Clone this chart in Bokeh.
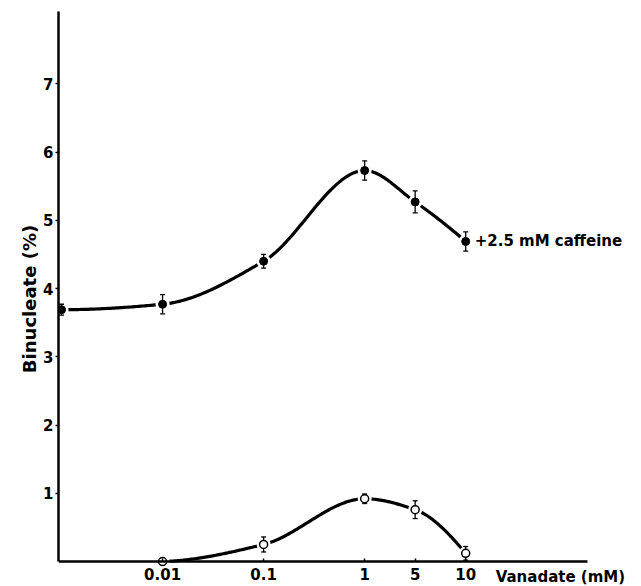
import numpy as np
from bokeh.plotting import figure
from bokeh.models import FixedTicker, Label, Range1d
from bokeh.embed import file_html
from bokeh.resources import INLINE

# ---- data ----
conc_ticks = [0.01, 0.1, 1, 5, 10]
conc_tick_labels = ["0.01", "0.1", "1", "5", "10"]
# axis slot of each concentration (the original axis is not to scale)
axis_slot = {0: 0.0, 0.01: 1.0, 0.1: 2.0, 1: 3.0, 5: 3.5, 10: 4.0}

caff_conc = [0, 0.01, 0.1, 1, 5, 10]
caff_val = [3.69, 3.77, 4.40, 5.73, 5.27, 4.69]
caff_err = [0.08, 0.14, 0.10, 0.14, 0.16, 0.14]

ctrl_conc = [0.01, 0.1, 1, 5, 10]
ctrl_val = [0.0, 0.25, 0.92, 0.76, 0.12]
ctrl_err = [0.0, 0.11, 0.07, 0.13, 0.10]

y_ticks = [1, 2, 3, 4, 5, 6, 7]

FONT = "DejaVu Sans"

X_START, X_AXIS_END, X_END = -0.03, 5.21, 5.74
Y_START, Y_END = -0.366, 8.06


def pchip(x, y, n=200):
    x = np.asarray(x, float)
    y = np.asarray(y, float)
    h = np.diff(x)
    d = np.diff(y) / h
    m = np.zeros_like(x)
    for k in range(1, len(x) - 1):
        if d[k - 1] * d[k] <= 0:
            m[k] = 0.0
        else:
            w1 = 2 * h[k] + h[k - 1]
            w2 = h[k] + 2 * h[k - 1]
            m[k] = (w1 + w2) / (w1 / d[k - 1] + w2 / d[k])

    def end(h0, h1, d0, d1):
        v = ((2 * h0 + h1) * d0 - h0 * d1) / (h0 + h1)
        if np.sign(v) != np.sign(d0):
            return 0.0
        if np.sign(d0) != np.sign(d1) and abs(v) > abs(3 * d0):
            return 3 * d0
        return v

    m[0] = end(h[0], h[1], d[0], d[1])
    m[-1] = end(h[-1], h[-2], d[-1], d[-2])
    xs = np.linspace(x[0], x[-1], n)
    idx = np.clip(np.searchsorted(x, xs, side="right") - 1, 0, len(x) - 2)
    t = (xs - x[idx]) / h[idx]
    h00 = 2 * t**3 - 3 * t**2 + 1
    h10 = t**3 - 2 * t**2 + t
    h01 = -2 * t**3 + 3 * t**2
    h11 = t**3 - t**2
    ys = h00 * y[idx] + h10 * h[idx] * m[idx] + h01 * y[idx + 1] + h11 * h[idx] * m[idx + 1]
    return xs, ys


caff_x = [axis_slot[c] for c in caff_conc]
ctrl_x = [axis_slot[c] for c in ctrl_conc]

p = figure(width=641, height=586, output_backend="svg", toolbar_location=None,
           x_range=Range1d(X_START, X_END), y_range=Range1d(Y_START, Y_END),
           min_border_left=58, min_border_right=0, min_border_top=11, min_border_bottom=0)
p.background_fill_color = "white"
p.border_fill_color = "white"
p.outline_line_color = None
p.xgrid.visible = False
p.ygrid.visible = False

# curves
for xs_, ys_ in ((caff_x, caff_val), (ctrl_x, ctrl_val)):
    cx, cy = pchip(xs_, ys_)
    p.line(cx, cy, line_color="black", line_width=3.2, line_cap="round", line_join="round")

# white halos (gaps in the line around each point)
p.scatter(caff_x, caff_val, marker="circle", size=14, fill_color="white", line_color=None)
p.scatter(ctrl_x, ctrl_val, marker="circle", size=14, fill_color="white", line_color=None)

# error bars
for xs_, ys_, es_ in ((caff_x, caff_val, caff_err), (ctrl_x, ctrl_val, ctrl_err)):
    ex = [a for a, e in zip(xs_, es_) if e > 0]
    lo = [v - e for v, e in zip(ys_, es_) if e > 0]
    hi = [v + e for v, e in zip(ys_, es_) if e > 0]
    p.segment(ex, lo, ex, hi, line_color="black", line_width=1.3)
    p.scatter(ex, lo, marker="dash", size=5, line_color="black", line_width=1.3)
    p.scatter(ex, hi, marker="dash", size=5, line_color="black", line_width=1.3)

# markers
p.scatter(caff_x, caff_val, marker="circle", size=8, fill_color="black", line_color="black")
p.scatter(ctrl_x, ctrl_val, marker="circle", size=8, fill_color="white", line_color="black",
          line_width=1.5)

# axes
p.xaxis.fixed_location = 0
p.xaxis.bounds = (X_START, X_AXIS_END)
p.yaxis.bounds = (0, Y_END)
p.xaxis.ticker = FixedTicker(ticks=[axis_slot[c] for c in conc_ticks])
p.xaxis.major_label_overrides = {axis_slot[c]: lab for c, lab in zip(conc_ticks, conc_tick_labels)}
p.yaxis.ticker = FixedTicker(ticks=y_ticks)
for ax in (p.xaxis[0], p.yaxis[0]):
    ax.axis_line_color = "black"
    ax.axis_line_width = 2.5
    ax.major_tick_line_color = "black"
    ax.major_tick_line_width = 1.5
    ax.minor_tick_line_color = None
    ax.major_label_text_font = FONT
    ax.major_label_text_font_style = "bold"
    ax.major_label_text_font_size = "15px"
    ax.major_label_text_color = "black"

p.xaxis.major_tick_in = 3
p.xaxis.major_tick_out = 0
p.xaxis.major_label_standoff = 6
p.yaxis.major_tick_in = 0
p.yaxis.major_tick_out = 3
p.yaxis.major_label_standoff = 2
p.yaxis.axis_label = "Binucleate (%)"
p.yaxis.axis_label_text_font = FONT
p.yaxis.axis_label_text_font_style = "bold"
p.yaxis.axis_label_text_font_size = "18px"
p.yaxis.axis_label_standoff = 0
p.yaxis.axis_label_text_color = "black"

# texts
p.add_layout(Label(x=caff_x[-1], y=caff_val[-1], x_offset=9, text="+2.5 mM caffeine",
                   text_baseline="middle", text_font=FONT, text_font_style="bold",
                   text_font_size="15px", text_color="black"))
p.add_layout(Label(x=axis_slot[10], y=0, x_offset=30, y_offset=-15, text="Vanadate (mM)",
                   text_baseline="middle", text_font=FONT, text_font_style="bold",
                   text_font_size="15px", text_color="black"))

open("out.html", "w").write(file_html(p, INLINE))
